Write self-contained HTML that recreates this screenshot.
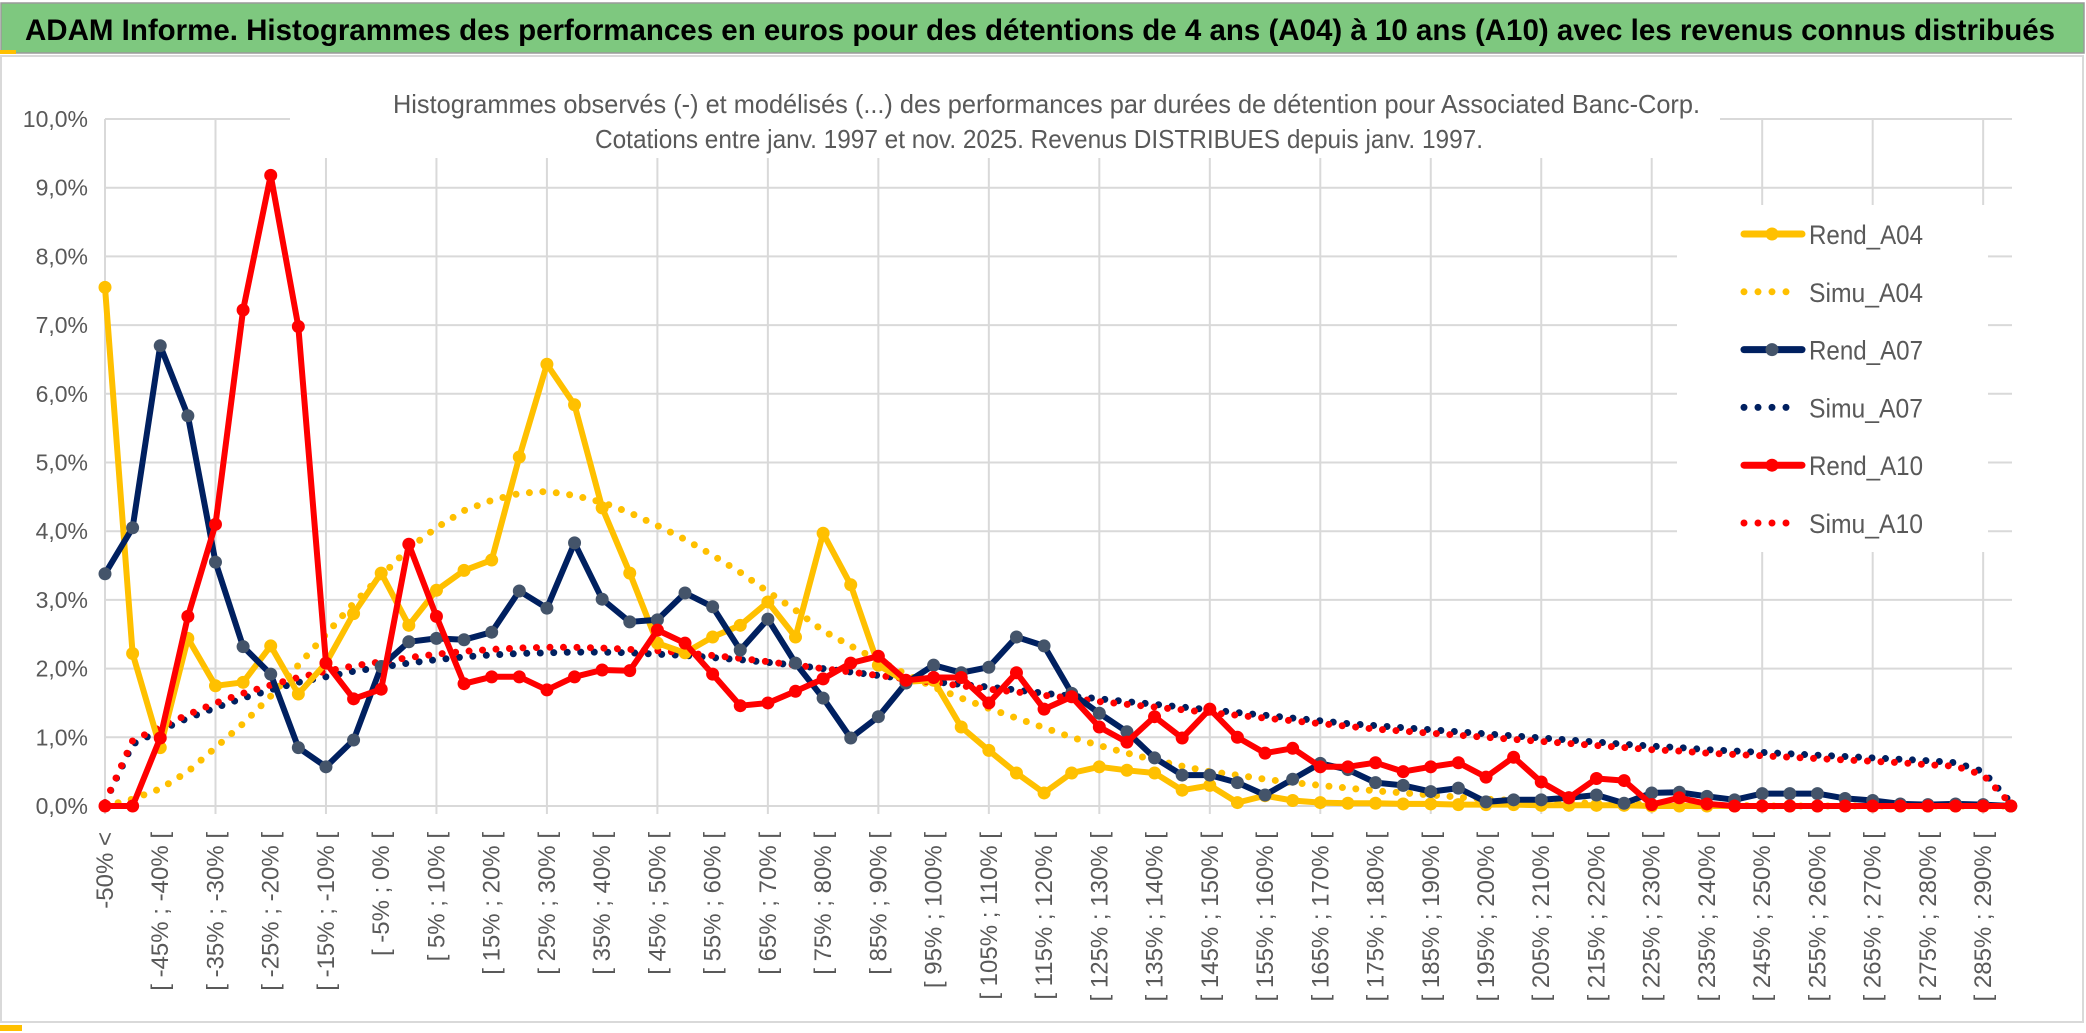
<!DOCTYPE html>
<html><head><meta charset="utf-8"><style>
html,body{margin:0;padding:0;background:#fff;}
svg{display:block;font-family:"Liberation Sans Narrow","Liberation Sans",sans-serif;}
</style></head><body>
<svg id="chart" width="2086" height="1033" viewBox="0 0 2086 1033" xmlns="http://www.w3.org/2000/svg">
<rect x="0" y="0" width="2086" height="1033" fill="#fff"/>
<rect x="1" y="3" width="2083" height="50" fill="#7ec87f" stroke="#9a9a9a" stroke-width="1.5"/>
<rect x="0" y="50" width="16" height="4" fill="#ffc000"/>
<text x="25" y="40" font-size="30" font-weight="bold" fill="#000" textLength="2030" lengthAdjust="spacingAndGlyphs">ADAM Informe. Histogrammes des performances en euros pour des détentions de 4 ans (A04) à 10 ans (A10) avec les revenus connus distribués</text>
<rect x="1" y="56" width="2082" height="966" fill="none" stroke="#d9d9d9" stroke-width="2"/>
<rect x="0" y="1025" width="22" height="6" fill="#ffc000"/>
<g id="grid"></g>
<rect x="290" y="84" width="1430" height="74" fill="#fff"/>
<text x="393" y="113" font-size="26" fill="#595959" textLength="1307" lengthAdjust="spacingAndGlyphs">Histogrammes observés (-) et modélisés (...) des performances par durées de détention pour Associated Banc-Corp.</text>
<text x="595" y="148" font-size="26" fill="#595959" textLength="888" lengthAdjust="spacingAndGlyphs">Cotations entre janv. 1997 et nov. 2025. Revenus DISTRIBUES depuis janv. 1997.</text>
<g id="axes"></g>
<g id="series"></g>
<rect x="1677" y="205" width="311" height="347" fill="#fff"/>
<g id="legend"></g>
</svg>
<script>
const categoriesLower = [];
for (let k = 0; k < 69; k++) categoriesLower.push(-50 + 5 * k);
const rendA04 = [7.55,2.22,0.85,2.44,1.75,1.8,2.33,1.63,2.08,2.8,3.39,2.63,3.14,3.43,3.58,5.08,6.43,5.84,4.34,3.39,2.37,2.23,2.46,2.63,2.97,2.46,3.97,3.22,2.05,1.81,1.83,1.15,0.81,0.48,0.19,0.48,0.57,0.52,0.48,0.23,0.3,0.05,0.15,0.08,0.05,0.04,0.04,0.03,0.03,0.02,0.02,0.02,0.01,0.01,0.01,0.01,0,0,0,0,0,0,0,0,0,0,0,0,0,0];
const simuA04 = [0,0.1,0.25,0.5,0.85,1.2,1.6,2.05,2.5,2.95,3.35,3.75,4.05,4.3,4.45,4.55,4.58,4.52,4.42,4.27,4.08,3.88,3.65,3.4,3.12,2.85,2.55,2.33,2.12,1.92,1.73,1.57,1.42,1.28,1.14,1.0,0.88,0.77,0.67,0.58,0.5,0.45,0.39,0.34,0.3,0.26,0.22,0.19,0.16,0.13,0.1,0.08,0.06,0.05,0.04,0.03,0.02,0.02,0.01,0.01,0,0,0,0,0,0,0,0,0,0];
const rendA07 = [3.38,4.05,6.7,5.68,3.55,2.32,1.92,0.85,0.57,0.96,2.03,2.39,2.44,2.42,2.53,3.13,2.88,3.83,3.01,2.68,2.71,3.1,2.9,2.27,2.72,2.08,1.57,0.99,1.3,1.79,2.05,1.94,2.02,2.46,2.33,1.64,1.35,1.08,0.7,0.45,0.45,0.34,0.16,0.39,0.62,0.53,0.34,0.3,0.21,0.26,0.06,0.09,0.09,0.12,0.16,0.04,0.19,0.2,0.14,0.09,0.18,0.18,0.18,0.11,0.08,0.03,0.02,0.03,0.02,0];
const simuA07 = [0.05,0.9,1.1,1.28,1.43,1.57,1.69,1.8,1.88,1.96,2.02,2.08,2.13,2.17,2.2,2.22,2.23,2.24,2.24,2.23,2.21,2.19,2.16,2.13,2.09,2.05,2.0,1.95,1.9,1.85,1.81,1.77,1.73,1.69,1.64,1.6,1.56,1.52,1.48,1.44,1.4,1.36,1.32,1.28,1.24,1.2,1.17,1.14,1.11,1.08,1.05,1.02,0.99,0.96,0.93,0.9,0.87,0.85,0.82,0.8,0.78,0.76,0.74,0.72,0.7,0.68,0.66,0.63,0.5,0.05];
const rendA10 = [0,0,0.99,2.76,4.1,7.22,9.18,6.98,2.08,1.56,1.7,3.81,2.76,1.78,1.88,1.88,1.69,1.88,1.98,1.97,2.56,2.37,1.92,1.46,1.5,1.67,1.85,2.08,2.18,1.83,1.87,1.87,1.5,1.94,1.41,1.59,1.15,0.93,1.3,0.99,1.41,1.0,0.77,0.84,0.57,0.57,0.63,0.5,0.57,0.63,0.42,0.71,0.35,0.12,0.4,0.37,0.02,0.12,0.03,0,0,0,0,0,0,0,0,0,0,0];
const simuA10 = [0.05,0.95,1.15,1.33,1.5,1.64,1.76,1.87,1.96,2.04,2.1,2.16,2.21,2.25,2.28,2.3,2.31,2.31,2.3,2.28,2.26,2.23,2.19,2.15,2.1,2.05,2.0,1.95,1.9,1.85,1.8,1.75,1.7,1.66,1.61,1.57,1.52,1.48,1.44,1.4,1.36,1.32,1.28,1.24,1.2,1.16,1.12,1.09,1.06,1.03,1.0,0.97,0.94,0.91,0.88,0.85,0.82,0.8,0.77,0.75,0.73,0.71,0.69,0.67,0.65,0.63,0.6,0.58,0.45,0.03];
const yTicks = [0,1,2,3,4,5,6,7,8,9,10];
const legendNames = ["Rend_A04","Simu_A04","Rend_A07","Simu_A07","Rend_A10","Simu_A10"];

const NS = "http://www.w3.org/2000/svg";
const X0 = 105, DX = 27.62, Y0 = 806, DY = 68.7, XR = 2012;
const N = rendA04.length;
function xAt(i){ return X0 + i * DX; }
function yAt(v){ return Y0 - v * DY; }
function mk(tag, attrs, parent){ const e = document.createElementNS(NS, tag); for (const k in attrs) e.setAttribute(k, attrs[k]); parent.appendChild(e); return e; }
const labels = ["-50% <"];
for (let i = 1; i < N; i++) { const lo = -55 + 5 * i; labels.push("[ " + lo + "% ; " + (lo + 5) + "% ["); }

const grid = document.getElementById('grid');
yTicks.forEach(t => {
  const l = mk('line', {x1:X0, x2:XR, y1:yAt(t), y2:yAt(t), stroke:'#d9d9d9', 'stroke-width':2}, grid);
  
  
});
for (let i = 0; i < N; i += 4) {
  const l = mk('line', {x1:xAt(i), x2:xAt(i), y1:yAt(10), y2:Y0 + 8, stroke:'#d9d9d9', 'stroke-width':2}, grid);
  
  
}
const axes = document.getElementById('axes');
yTicks.forEach(t => {
  const tx = mk('text', {x:88, y:yAt(t) + 8, 'font-size':23, fill:'#595959', 'text-anchor':'end'}, axes);
  tx.textContent = t.toFixed(1).replace('.', ',') + '%';
  
  
});
for (let i = 0; i < N; i += 2) {
  const x = xAt(i) + 8, y = 832;
  const tx = mk('text', {x:x, y:y, 'font-size':24, fill:'#595959', 'text-anchor':'end', transform:'rotate(-90 ' + x + ' ' + y + ')'}, axes);
  tx.textContent = labels[i];
  
  
}

const series = document.getElementById('series');
function pts(arr){ return arr.map((v, i) => xAt(i).toFixed(1) + ',' + yAt(v).toFixed(1)).join(' '); }
function dotted(arr, color, name){
  const p = mk('polyline', {points:pts(arr), fill:'none', stroke:color, 'stroke-width':7, 'stroke-linecap':'round', 'stroke-dasharray':'0 13.5'}, series);
  
  
}
function solid(arr, color, mcolor, name){
  const g = mk('g', {}, series);
  
  
  mk('polyline', {points:pts(arr), fill:'none', stroke:color, 'stroke-width':6, 'stroke-linejoin':'round'}, g);
  arr.forEach((v, i) => {
    const c = mk('circle', {cx:xAt(i), cy:yAt(v), r:6.5, fill:mcolor}, g);
    
    
  });
}
dotted(simuA04, '#ffc000', 'simu-a04-line');
dotted(simuA07, '#002060', 'simu-a07-line');
dotted(simuA10, '#ff0000', 'simu-a10-line');
solid(rendA04, '#ffc000', '#ffc000', 'rend-a04-line');
solid(rendA07, '#002060', '#44546a', 'rend-a07-line');
solid(rendA10, '#ff0000', '#ff0000', 'rend-a10-line');

const legend = document.getElementById('legend');
const lColors = ['#ffc000','#ffc000','#002060','#002060','#ff0000','#ff0000'];
const lMark = ['#ffc000',null,'#44546a',null,'#ff0000',null];
legendNames.forEach((n, k) => {
  const y = 234 + k * 57.8;
  const g = mk('g', {}, legend);
  
  
  if (lMark[k]) {
    mk('line', {x1:1744, x2:1802, y1:y, y2:y, stroke:lColors[k], 'stroke-width':7, 'stroke-linecap':'round'}, g);
    mk('circle', {cx:1772, cy:y, r:6.5, fill:lMark[k]}, g);
  } else {
    mk('line', {x1:1744, x2:k === 5 ? 1800 : 1790, y1:y, y2:y, stroke:lColors[k], 'stroke-width':7, 'stroke-linecap':'round', 'stroke-dasharray':'0 14'}, g);
  }
  const t = mk('text', {x:1809, y:y + 10, 'font-size':27, fill:'#595959', textLength:114, lengthAdjust:'spacingAndGlyphs'}, g);
  t.textContent = n;
});
</script>
</body></html>
